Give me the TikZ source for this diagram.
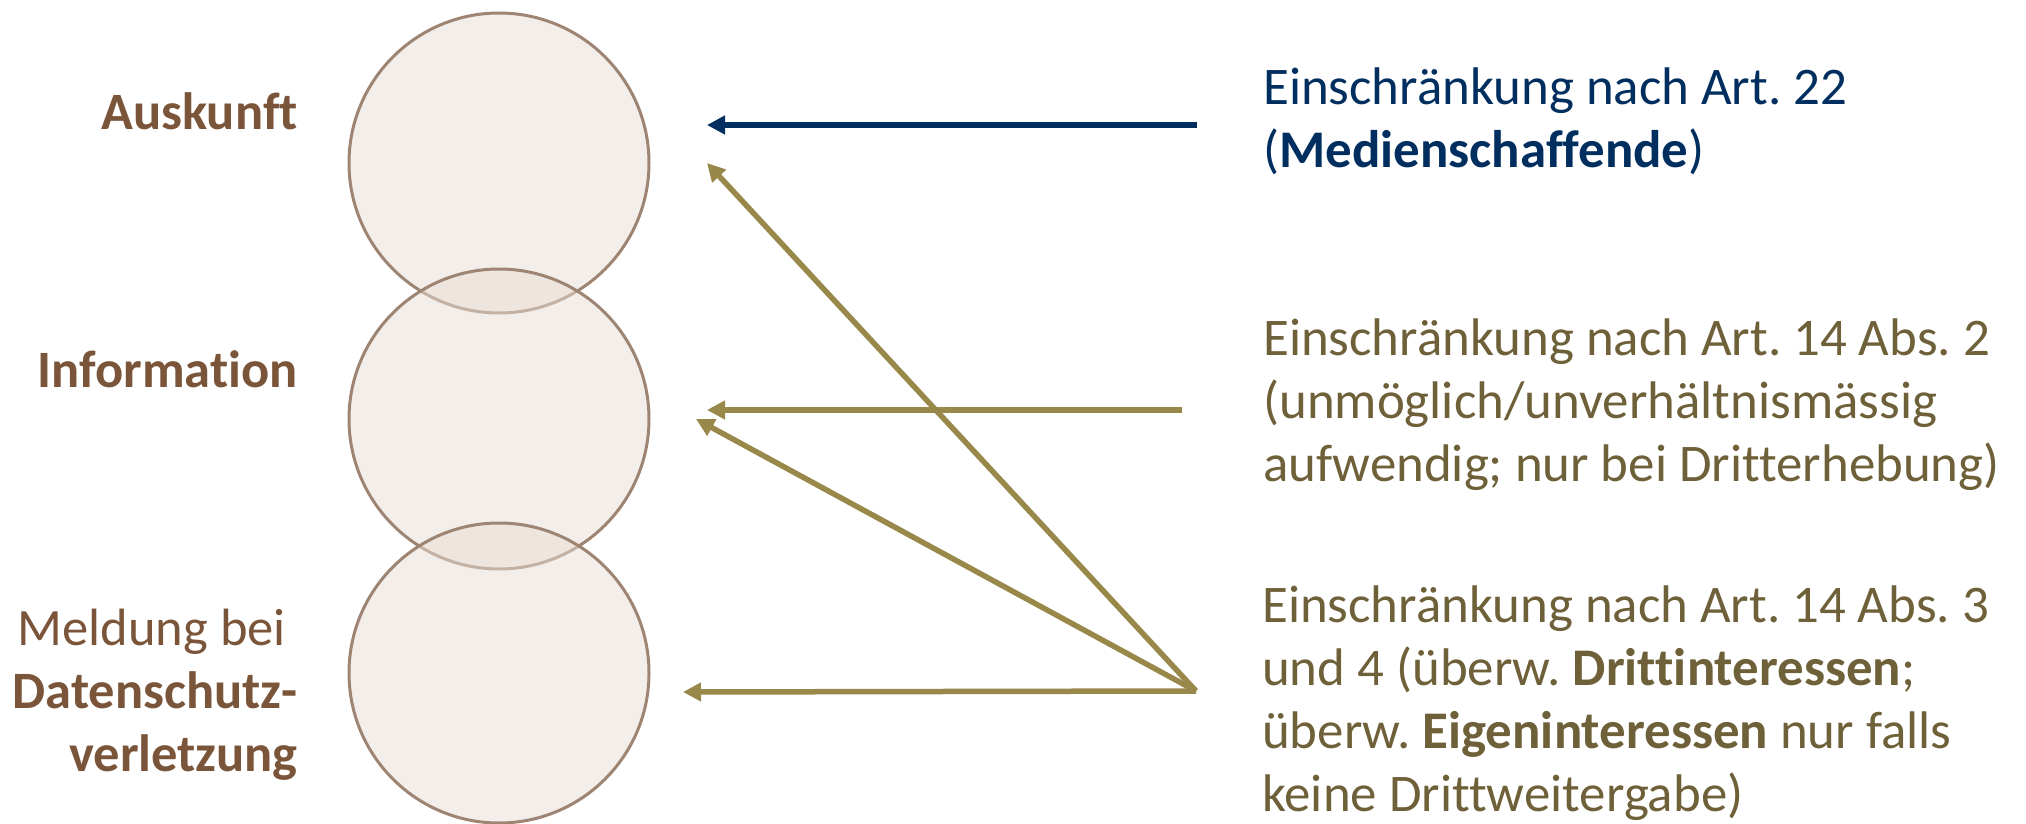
\documentclass[tikz,border=0pt]{standalone}
\usepackage{fontspec}
\setmainfont{Carlito}[Ligatures=CommonOff]
\usetikzlibrary{arrows.meta}
\definecolor{navy}{HTML}{002E5F}
\definecolor{olivetext}{HTML}{6E6038}
\definecolor{olivearrow}{HTML}{98884A}
\definecolor{labelbrown}{HTML}{7A5539}
\definecolor{circstroke}{HTML}{9E8573}
\definecolor{circfill}{HTML}{E8DDD4}
\frenchspacing
\begin{document}
\begin{tikzpicture}[x=1pt,y=-1pt,
  bubble/.style={circle, minimum size=300pt, inner sep=0pt, draw=circstroke, line width=3pt, fill=circfill, fill opacity=0.5, draw opacity=1},
  lbl/.style={inner sep=0pt, anchor=base east, text=labelbrown, font=\fontsize{52.5}{63}\selectfont},
  txt/.style={inner sep=0pt, anchor=base west, font=\fontsize{52.9}{63}\selectfont},
  arr/.style={line width=5.5pt, -{Triangle[length=18pt,width=18pt]}},
]
\useasboundingbox (0,0) rectangle (2026,824);

% circles
\node[bubble] (c1) at (499,163) {};
\node[bubble] (c2) at (499,419) {};
\node[bubble] (c3) at (499,673) {};

% left labels
\node[lbl] (l1) at (298,130) {\textbf{Auskunft}};
\node[lbl] (l2) at (298,387) {\textbf{Information}};
\node[lbl] (l3) at (298,645) {\vtop{\halign{\hfil#\cr Meldung bei~\cr\textbf{Datenschutz-}\cr\textbf{verletzung}\cr}}};

% right texts
\node[txt, text=navy] (t1) at (1263,105) {\vtop{\hbox{Einschränkung nach Art. 22}\hbox{(\textbf{Medienschaffende})}}};
\node[txt, text=olivetext] (t2) at (1263,355) {\vtop{\hbox{Einschränkung nach Art. 14 Abs. 2}\hbox{(unmöglich/unverhältnismässig}\hbox{aufwendig; nur bei Dritterhebung)}}};
\node[txt, text=olivetext] (t3) at (1262,622) {\vtop{\hbox{Einschränkung nach Art. 14 Abs. 3}\hbox{und 4 (überw. \textbf{Drittinteressen};}\hbox{überw. \textbf{Eigeninteressen} nur falls}\hbox{keine Drittweitergabe)}}};

% arrow endpoints
\coordinate (a1s) at (1197,125);
\coordinate (a1e) at (707,125);
\coordinate (a2s) at (1182,410);
\coordinate (a2e) at (707,410);
\coordinate (hub) at (1196,691);
\coordinate (e1) at (707,163);
\coordinate (e2) at (696,419);
\coordinate (e3) at (683,692);

\draw[arr, navy] (a1s) -- (a1e);
\draw[arr, olivearrow] (a2s) -- (a2e);
\draw[arr, olivearrow] (hub) -- (e1);
\draw[arr, olivearrow] (hub) -- (e2);
\draw[arr, olivearrow] (hub) -- (e3);
\end{tikzpicture}
\end{document}
